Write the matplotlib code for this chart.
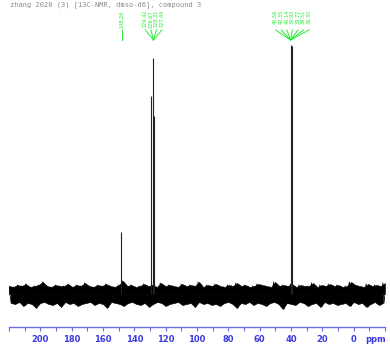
"""13C NMR spectrum plot recreated with matplotlib."""

import numpy as np
from matplotlib import pyplot as plt
from matplotlib.ticker import MultipleLocator

# peak positions (ppm) and intensities (arbitrary units, baseline = 0)
peak_ppm = [148.3, 129.4, 128.3, 127.4, 40.2, 39.2]
peak_height = [62, 198, 236, 178, 249, 248]

# label text for the annotated peak groups
single_label = "148.26"
aromatic_labels = ["129.42", "128.67", "128.31", "127.44"]
solvent_labels = ["40.56", "40.35", "40.14", "39.93", "39.72", "39.51", "39.30"]

# hand-read noise envelope of the baseline (upper and lower excursions)
noise_upper = [
    8, 7, 9, 8, 10, 7, 8, 9, 12, 8, 7, 9, 8, 8, 10, 7, 9, 8, 11, 8,
    7, 9, 8, 10, 8, 7, 9, 13, 8, 9, 7, 8, 10, 8, 9, 7, 11, 8, 9, 8,
    7, 10, 8, 9, 8, 12, 7, 9, 8, 10, 8, 7, 9, 8, 11, 8, 9, 7, 8, 10,
    9, 8, 7, 12, 8, 9, 8, 10, 7, 9, 8, 8, 11, 7, 9, 8, 10, 8, 9, 7,
    8, 12, 9, 8, 7, 10, 8, 9, 8, 11,
]
noise_lower = [
    -9, -10, -8, -12, -9, -10, -14, -9, -8, -10, -11, -9, -13, -8, -10, -9, -12, -10, -9, -8,
    -11, -9, -10, -14, -8, -9, -10, -12, -9, -8, -10, -11, -9, -13, -10, -8, -9, -12, -10, -9,
    -8, -11, -10, -9, -13, -8, -10, -9, -11, -10, -12, -9, -8, -10, -14, -9, -10, -8, -11, -9,
    -10, -12, -9, -8, -10, -15, -9, -10, -11, -8, -9, -12, -10, -9, -13, -8, -10, -9, -11, -10,
    -9, -12, -8, -10, -9, -13, -10, -8, -11, -9,
]

header_text = "zhang 2020 (3) [13C-NMR, dmso-d6], compound 3"

XMIN, XMAX = -20.0, 220.0

fig = plt.figure(figsize=(3.9, 3.47), dpi=100)
ax = fig.add_axes([9 / 390, 20 / 347, 376 / 390, 327 / 347])
ax.set_xlim(XMAX, XMIN)
ax.set_ylim(-33, 294)

# baseline noise: solid band between the jagged upper and lower envelopes
n = len(noise_upper)
up_x = np.linspace(XMAX, XMIN, n)
lo_x = np.linspace(XMAX - 1.2, XMIN + 1.2, n)
ax.fill_between(up_x, noise_upper, 0, color="black", linewidth=0.4)
ax.fill_between(lo_x, noise_lower, 0, color="black", linewidth=0.4)
# thin spikes between the envelope points
zig_x = np.linspace(XMAX, XMIN, 2 * n)
zig_y = np.empty(2 * n)
zig_y[0::2] = noise_upper
zig_y[1::2] = noise_lower
ax.plot(zig_x, zig_y, color="black", linewidth=0.6)

# peaks
ax.vlines(peak_ppm, 0, peak_height, color="#222222", linewidth=0.8)

# peak annotation labels
green = "#22ee33"
label_top = 284
label_bottom = 264
fan_tip = 254


def label_group(labels, first_ppm, step, tip_ppm):
    for i, text in enumerate(labels):
        x = first_ppm - i * step
        ax.text(x, label_top, text, rotation=90, ha="center", va="top",
                fontsize=3.6, color=green, clip_on=False)
        ax.plot([x, tip_ppm], [label_bottom, fan_tip], color=green,
                linewidth=0.7, clip_on=False)


label_group([single_label], 147.6, 0, 147.6)
label_group(aromatic_labels, 132.9, 3.5, 127.8)
label_group(solvent_labels, 49.8, 3.55, 40.25)

# axis styling
blue = "#3a3ae0"
for side in ("left", "right", "top"):
    ax.spines[side].set_visible(False)
ax.spines["bottom"].set_color("#6b6bf0")
ax.spines["bottom"].set_linewidth(1.0)
ax.set_yticks([])
ax.xaxis.set_major_locator(MultipleLocator(20))
ax.xaxis.set_minor_locator(MultipleLocator(10))
ax.set_xticks([t for t in range(0, 201, 20)])
ax.tick_params(axis="x", which="both", direction="out", length=3, width=0.8,
               color="#6b6bf0", labelcolor=blue, labelsize=6, pad=3)
for lbl in ax.get_xticklabels():
    lbl.set_fontweight("bold")
ax.text(-14, -45, "ppm", ha="center", va="center", fontsize=6,
        fontweight="bold", color=blue, clip_on=False)

fig.text(10 / 390, 1 - 5 / 347, header_text, fontsize=5, color="#8a8a8a",
         ha="left", va="center", family="monospace")

fig.savefig("out.png", dpi=100)
